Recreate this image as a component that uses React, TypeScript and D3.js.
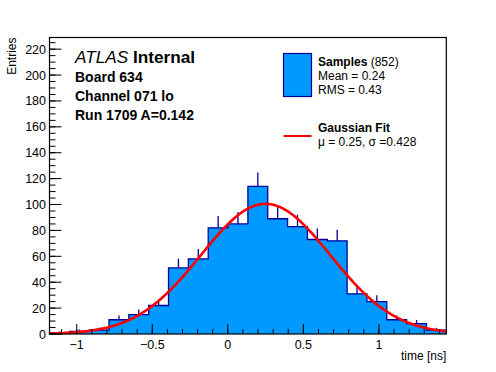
import React from "react";
import * as d3 from "d3";

// histogram of sample times, 20 bins
const binLow = -1.18;
const binWidth = 0.1313;
const counts = [1, 2, 3, 11, 15, 22, 51, 58, 82, 85, 114, 89, 83, 73, 72, 31, 25, 11, 8, 3];

// gaussian fit parameters
const fitMean = 0.25;
const fitSigma = 0.428;
const fitAmp = 100.5;

const xTicks = [-1, -0.5, 0, 0.5, 1];
const yTicks = [0, 20, 40, 60, 80, 100, 120, 140, 160, 180, 200, 220];

const infoLines = ["Board 634", "Channel 071 lo", "Run 1709 A=0.142"];

const W = 496;
const H = 372;
const frame = { left: 49.5, right: 446.3, top: 37.5, bottom: 334 };
const font = "'Liberation Sans', Arial, sans-serif";
const fillBlue = "#0099ff";
const navy = "#000099";

const App = () => {
  const xMax = binLow + binWidth * counts.length;
  const x = d3.scaleLinear().domain([binLow, xMax]).range([frame.left, frame.right]);
  const y = d3.scaleLinear().domain([0, 229]).range([frame.bottom, frame.top]);

  // step outline of the histogram
  const steps: [number, number][] = [];
  counts.forEach((c, i) => {
    steps.push([binLow + i * binWidth, c]);
    steps.push([binLow + (i + 1) * binWidth, c]);
  });
  const area = d3.area<[number, number]>()
    .x(d => x(d[0]))
    .y0(y(0))
    .y1(d => y(d[1]));
  const outline = d3.line<[number, number]>()
    .x(d => x(d[0]))
    .y(d => y(d[1]));
  const outlinePts: [number, number][] = [[binLow, 0], ...steps, [xMax, 0]];

  // fit curve
  const gauss = (t: number) => fitAmp * Math.exp(-0.5 * ((t - fitMean) / fitSigma) ** 2);
  const fitPts: [number, number][] = d3.range(0, 301).map(i => {
    const t = binLow + (xMax - binLow) * i / 300;
    return [t, gauss(t)];
  });

  const fmt = d3.format("");
  const xMinor = d3.range(-11, 15).map(v => v / 10).filter(v => v >= binLow && v <= xMax);
  const yMinor = d3.range(0, 230, 5);

  return (
    <svg width={W} height={H} style={{ position: "absolute", left: 0, top: 0, background: "#fff" }}
      fontFamily={font}>
      <rect width={W} height={H} fill="#fff" />
      <path d={area(steps) || ""} fill={fillBlue} />
      {counts.map((c, i) => (
        <line key={"e" + i}
          x1={x(binLow + (i + 0.5) * binWidth)} x2={x(binLow + (i + 0.5) * binWidth)}
          y1={y(c)} y2={y(c + Math.sqrt(c))}
          stroke={navy} strokeWidth={1.3} />
      ))}
      <path d={outline(outlinePts) || ""} fill="none" stroke={navy} strokeWidth={1.3} />
      <path d={outline(fitPts) || ""} fill="none" stroke="#ff0000" strokeWidth={2.6} />

      {/* frame */}
      <rect x={frame.left} y={frame.top} width={frame.right - frame.left} height={frame.bottom - frame.top}
        fill="none" stroke="#000" strokeWidth={1.2} />

      {/* x axis */}
      {xMinor.map(v => (
        <line key={"xm" + v} x1={x(v)} x2={x(v)} y1={frame.bottom} y2={frame.bottom - 5} stroke="#000" />
      ))}
      {xTicks.map(v => (
        <g key={"x" + v}>
          <line x1={x(v)} x2={x(v)} y1={frame.bottom} y2={frame.bottom - 10} stroke="#000" />
          <text x={x(v)} y={349} textAnchor="middle" fontSize={12.5}>{fmt(v)}</text>
        </g>
      ))}
      <text x={frame.right} y={360} textAnchor="end" fontSize={12}>time [ns]</text>

      {/* y axis */}
      {yMinor.map(v => (
        <line key={"ym" + v} x1={frame.left} x2={frame.left + 6} y1={y(v)} y2={y(v)} stroke="#000" />
      ))}
      {yTicks.map(v => (
        <g key={"y" + v}>
          <line x1={frame.left} x2={frame.left + 12} y1={y(v)} y2={y(v)} stroke="#000" />
          <text x={46} y={y(v) + 4.5} textAnchor="end" fontSize={12.5}>{fmt(v)}</text>
        </g>
      ))}
      <text transform={`translate(16,${frame.top}) rotate(-90)`} textAnchor="end" fontSize={12}>Entries</text>

      {/* labels */}
      <text x={75} y={63} fontSize={17.2}>
        <tspan fontStyle="italic">ATLAS</tspan>
        <tspan fontWeight="bold"> Internal</tspan>
      </text>
      {infoLines.map((s, i) => (
        <text key={s} x={75} y={82 + i * 19.2} fontSize={14} fontWeight="bold">{s}</text>
      ))}

      {/* legend */}
      <rect x={283.5} y={53.5} width={28} height={43} fill={fillBlue} stroke={navy} strokeWidth={1.2} />
      <text x={318} y={66} fontSize={12}>
        <tspan fontWeight="bold">Samples</tspan>
        <tspan> (852)</tspan>
      </text>
      <text x={318} y={80} fontSize={12}>Mean = 0.24</text>
      <text x={318} y={94} fontSize={12}>RMS = 0.43</text>
      <line x1={283.5} x2={311.5} y1={136} y2={136} stroke="#ff0000" strokeWidth={2} />
      <text x={318} y={132} fontSize={12} fontWeight="bold">Gaussian Fit</text>
      <text x={318} y={145.5} fontSize={12}>μ = 0.25, σ =0.428</text>
    </svg>
  );
};

export default App;
